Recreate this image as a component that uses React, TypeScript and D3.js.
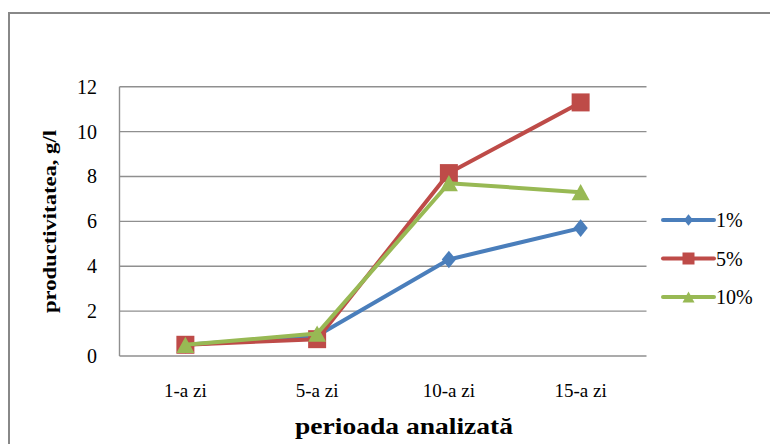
import React from "react";
import * as d3 from "d3";

const categories = ["1-a zi", "5-a zi", "10-a zi", "15-a zi"];
const seriesNames = ["1%", "5%", "10%"];
const values1 = [0.5, 0.9, 4.3, 5.7];
const values5 = [0.5, 0.75, 8.15, 11.3];
const values10 = [0.5, 1.0, 7.7, 7.3];
const yTicks = [0, 2, 4, 6, 8, 10, 12];
const colors = ["#4A7EBB", "#BE4B48", "#98B954"];
const shapes = ["diamond", "square", "triangle"];

const W = 770;
const H = 444;
const left = 119.5;
const right = 646.5;
const top = 86.7;
const bottom = 356;
const FONT = "Liberation Serif, Tinos, Times New Roman, DejaVu Serif, serif";
const ts: React.CSSProperties = { fontFamily: FONT };

function markerPath(shape: string, s: number): string {
  const p = d3.path();
  if (shape === "diamond") {
    const hw = s * 0.42, hh = s * 0.52;
    p.moveTo(0, -hh); p.lineTo(hw, 0); p.lineTo(0, hh); p.lineTo(-hw, 0); p.closePath();
  } else if (shape === "square") {
    const h = s / 2;
    p.rect(-h, -h, s, s);
  } else {
    const hw = s / 2, hh = s * 0.45;
    p.moveTo(0, -hh); p.lineTo(hw, hh); p.lineTo(-hw, hh); p.closePath();
  }
  return p.toString();
}

export default function App() {
  const x = d3.scaleBand<string>().domain(categories).range([left, right]).padding(0);
  const cx = (c: string) => (x(c) as number) + x.bandwidth() / 2;
  const y = d3.scaleLinear().domain([0, 12]).range([bottom, top]);
  const allSeries = [values1, values5, values10];
  const line = d3
    .line<number>()
    .x((_, i) => cx(categories[i]))
    .y((v) => y(v));
  const markerSizes = [17, 18, 18];
  const legendSizes = [11, 12, 12];
  const legendY = [220, 258.5, 297];

  return (
    <svg
      width={W}
      height={H}
      style={{ position: "absolute", left: 0, top: 0, background: "#fff" }}
    >
      <rect x={0} y={0} width={W} height={H} fill="#fff" />
      <rect x={9} y={13} width={W + 20} height={H + 20} fill="#fff" stroke="#888" strokeWidth={2} />
      {yTicks.map((t) => (
        <line key={"g" + t} x1={left} x2={right} y1={y(t)} y2={y(t)} stroke="#8f8f8f" strokeWidth={1.4} />
      ))}
      <line x1={left} x2={left} y1={top} y2={bottom} stroke="#8f8f8f" strokeWidth={1.4} />
      {yTicks.map((t) => (
        <text key={"t" + t} x={97} y={y(t) + 7} textAnchor="end" fontSize={20} fill="#000" style={ts}>
          {t}
        </text>
      ))}
      {categories.map((c) => (
        <text key={c} x={cx(c)} y={397} textAnchor="middle" fontSize={19} fill="#000" style={ts}>
          {c}
        </text>
      ))}
      <text
        x={404}
        y={434}
        textAnchor="middle"
        fontSize={23}
        fontWeight="bold"
        textLength={218}
        lengthAdjust="spacingAndGlyphs"
        style={ts}
      >
        perioada analizată
      </text>
      <text
        transform={`translate(56,${(130 + 313) / 2}) rotate(-90)`}
        textAnchor="middle"
        fontSize={19}
        fontWeight="bold"
        textLength={183}
        lengthAdjust="spacingAndGlyphs"
        style={ts}
      >
        productivitatea, g/l
      </text>
      {allSeries.map((vals, si) => (
        <g key={"s" + si}>
          <path d={line(vals) || ""} fill="none" stroke={colors[si]} strokeWidth={4} strokeLinejoin="round" />
          {vals.map((v, i) => (
            <path
              key={i}
              d={markerPath(shapes[si], markerSizes[si])}
              transform={`translate(${cx(categories[i])},${y(v)})`}
              fill={colors[si]}
            />
          ))}
        </g>
      ))}
      {seriesNames.map((n, si) => (
        <g key={"l" + n}>
          <line x1={663} x2={714} y1={legendY[si]} y2={legendY[si]} stroke={colors[si]} strokeWidth={4} strokeLinecap="round" />
          <path d={markerPath(shapes[si], legendSizes[si])} transform={`translate(688.5,${legendY[si]})`} fill={colors[si]} />
          <text x={716} y={legendY[si] + 7} fontSize={20} fill="#000" style={ts}>
            {n}
          </text>
        </g>
      ))}
    </svg>
  );
}
